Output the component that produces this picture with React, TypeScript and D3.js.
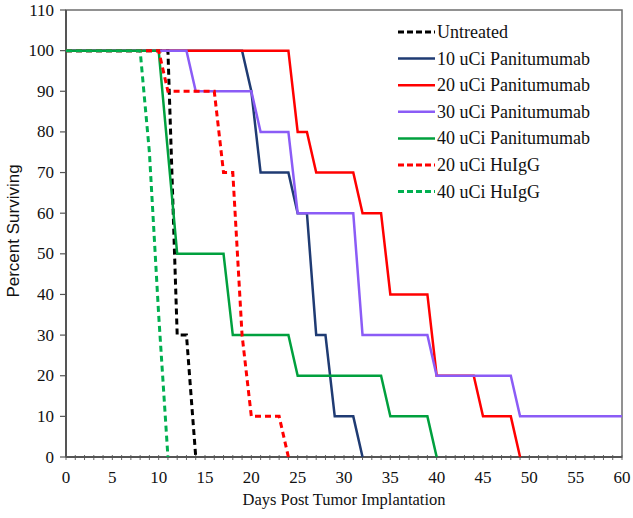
import React from "react";
import * as d3 from "d3";

const W = 633;
const H = 518;

const xTicks = [0, 5, 10, 15, 20, 25, 30, 35, 40, 45, 50, 55, 60];
const yTicks = [0, 10, 20, 30, 40, 50, 60, 70, 80, 90, 100, 110];

const seriesNames = [
  "Untreated",
  "10 uCi Panitumumab",
  "20 uCi Panitumumab",
  "30 uCi Panitumumab",
  "40 uCi Panitumumab",
  "20 uCi HuIgG",
  "40 uCi HuIgG",
];

const untreatedDays = [0, 11, 12, 13, 14];
const untreatedPct = [100, 100, 30, 30, 0];

const pan10Days = [0, 19, 20, 21, 24, 25, 26, 27, 28, 29, 31, 32];
const pan10Pct = [100, 100, 90, 70, 70, 60, 60, 30, 30, 10, 10, 0];

const pan20Days = [0, 24, 25, 26, 27, 31, 32, 34, 35, 39, 40, 44, 45, 48, 49];
const pan20Pct = [100, 100, 80, 80, 70, 70, 60, 60, 40, 40, 20, 20, 10, 10, 0];

const pan30Days = [0, 13, 14, 20, 21, 24, 25, 31, 32, 39, 40, 48, 49, 60];
const pan30Pct = [100, 100, 90, 90, 80, 80, 60, 60, 30, 30, 20, 20, 10, 10];

const pan40Days = [0, 10, 12, 17, 18, 24, 25, 34, 35, 39, 40];
const pan40Pct = [100, 100, 50, 50, 30, 30, 20, 20, 10, 10, 0];

const hu20Days = [0, 10, 11, 16, 17, 18, 19, 20, 23, 24];
const hu20Pct = [100, 100, 90, 90, 70, 70, 30, 10, 10, 0];

const hu40Days = [0, 8, 9, 10, 11];
const hu40Pct = [100, 100, 75, 35, 0];

const seriesDays = [untreatedDays, pan10Days, pan20Days, pan30Days, pan40Days, hu20Days, hu40Days];
const seriesPct = [untreatedPct, pan10Pct, pan20Pct, pan30Pct, pan40Pct, hu20Pct, hu40Pct];
const seriesColors = ["#000000", "#1f3b73", "#ff0000", "#8b5cf6", "#00a03e", "#ff0000", "#00b050"];
const seriesDashed = [true, false, false, false, false, true, true];
// draw order (bottom to top), same as series order
const drawOrder = [0, 1, 2, 3, 4, 5, 6];

export default function App() {
  const left = 66, right = 622, top = 10, bottom = 457;
  const x = d3.scaleLinear().domain([0, 60]).range([left, right]);
  const y = d3.scaleLinear().domain([0, 110]).range([bottom, top]);

  const line = d3
    .line<[number, number]>()
    .x((d) => x(d[0]))
    .y((d) => y(d[1]));

  const dayTicks = d3.range(0, 61, 1);
  const serif = "'Liberation Serif', 'Times New Roman', serif";

  return (
    <svg
      width={W}
      height={H}
      style={{ position: "absolute", left: 0, top: 0, background: "#fff" }}
    >
      <rect x={0} y={0} width={W} height={H} fill="#fff" />
      {/* frame */}
      <rect x={left} y={top} width={right - left} height={bottom - top} fill="none" stroke="#6e6e6e" strokeWidth={1.5} />
      {/* y ticks */}
      {yTicks.map((t) => (
        <g key={"y" + t}>
          <line x1={left - 6} x2={left} y1={y(t)} y2={y(t)} stroke="#555" strokeWidth={1.2} />
          <text x={left - 12} y={y(t) + 5.5} textAnchor="end" fontFamily={serif} fontSize={17} fill="#111">
            {t}
          </text>
        </g>
      ))}
      {/* x ticks */}
      {dayTicks.map((t) => (
        <line key={"xd" + t} x1={x(t)} x2={x(t)} y1={bottom - 2} y2={bottom + 3} stroke="#666" strokeWidth={1} />
      ))}
      {xTicks.map((t) => (
        <text key={"xl" + t} x={x(t)} y={bottom + 26} textAnchor="middle" fontFamily={serif} fontSize={17} fill="#111">
          {t}
        </text>
      ))}
      {/* axes */}
      <line x1={left} x2={left} y1={top} y2={bottom} stroke="#555" strokeWidth={2} />
      <line x1={left} x2={right} y1={bottom} y2={bottom} stroke="#555" strokeWidth={2} />

      {/* series */}
      {drawOrder.map((i) => {
        const pts: [number, number][] = seriesDays[i].map((d, k) => [d, seriesPct[i][k]]);
        return (
          <path
            key={"s" + i}
            d={line(pts) || ""}
            fill="none"
            stroke={seriesColors[i]}
            strokeWidth={seriesDashed[i] ? 3 : 2.5}
            strokeDasharray={seriesDashed[i] ? "6,4" : undefined}
          />
        );
      })}

      {/* legend */}
      {seriesNames.map((name, i) => {
        const ly = 32 + i * 26.6;
        return (
          <g key={"lg" + i}>
            <line
              x1={398}
              x2={435}
              y1={ly}
              y2={ly}
              stroke={seriesColors[i]}
              strokeWidth={seriesDashed[i] ? 3 : 2.5}
              strokeDasharray={seriesDashed[i] ? "6,3" : undefined}
            />
            <text x={437} y={ly + 6} fontFamily={serif} fontSize={18} fill="#111">
              {name}
            </text>
          </g>
        );
      })}

      {/* axis titles */}
      <text
        transform={`translate(19,${231}) rotate(-90)`}
        textAnchor="middle"
        fontFamily="'Liberation Sans', Arial, sans-serif"
        fontSize={17}
        fill="#111"
      >
        Percent Surviving
      </text>
      <text x={(left + right) / 2} y={505} textAnchor="middle" fontFamily={serif} fontSize={16.5} fill="#111">
        Days Post Tumor Implantation
      </text>
    </svg>
  );
}
